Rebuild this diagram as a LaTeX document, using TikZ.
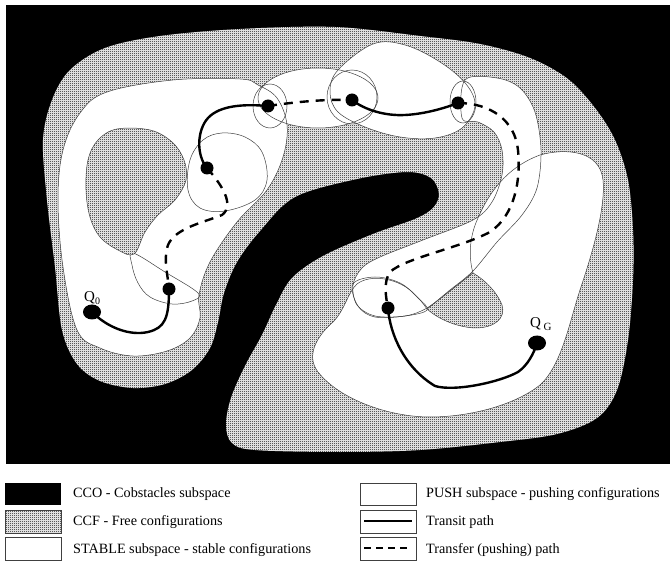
\documentclass[tikz,border=0pt]{standalone}
\usepackage{fontspec}
\setmainfont{Liberation Serif}
\usetikzlibrary{shapes.geometric,patterns.meta}
\pgfdeclarepattern{name=dither, type=uncolored,
  bottom left={\pgfpointorigin}, top right={\pgfpoint{2pt}{2pt}},
  tile size={\pgfpoint{2pt}{2pt}},
  code={\pgfpathrectangle{\pgfpointorigin}{\pgfpoint{1pt}{1pt}}
        \pgfpathrectangle{\pgfpoint{1pt}{1pt}}{\pgfpoint{1pt}{1pt}}
        \pgfusepath{fill}}}
\tikzset{
  thin line/.style={line width=0.5pt, draw=black!75},
  region/.style={fill=white},
  ccfill/.style={pattern=dither, pattern color=black},
  transit/.style={line width=2.4pt, line cap=round},
  transfer/.style={line width=2.4pt, dash pattern=on 9pt off 7pt},
  dot/.style={circle, fill=black, inner sep=0pt, minimum size=13pt},
  bigdot/.style={ellipse, fill=black, inner sep=0pt, minimum width=18pt, minimum height=15pt},
  legtext/.style={anchor=west, font=\fontsize{14.2}{16}\selectfont, inner sep=0pt},
  qlabel/.style={font=\fontsize{15}{17}\selectfont, inner sep=0pt}
}
\begin{document}
\begin{tikzpicture}[x=1pt,y=-1pt]
\useasboundingbox (0,0) rectangle (670,572);
% obstacles background
\fill[black] (6,5) rectangle (670,464);
% free configurations (with obstacle tongue cut out)
\def\freeblob{plot[smooth cycle, tension=0.55] coordinates {
 (133,388) (100,381) (77,364) (62,330) (55,267) (47,200) (43,140) (52,100) (70,70)
 (105,48) (160,36) (240,29) (335,27) (420,36) (480,44) (530,58) (568,79) (595,108)
 (615,140) (628,180) (633,230) (633,280) (628,340) (617,390) (597,418) (557,434)
 (500,442) (420,450) (340,452) (255,450) (232,443) (226,425) (231,398) (245,366)
 (262,335) (276,305) (292,278) (323,256) (373,234) (415,219) (433,208) (439,194)
 (431,178) (407,172) (357,179) (295,197) (260,231) (237,262) (224,293) (218,322)
 (210,348) (192,370) (165,384)}}
\fill[white] \freeblob;
\fill[ccfill] \freeblob;
% region shapes
\def\stableA{plot[smooth cycle, tension=0.6] coordinates {(258,85) (240,79) (173,80) (107,92) (80,113) (63,150) (58,200) (63,267) (77,330) (100,348) (133,356) (167,351) (190,338) (200,318) (199,295) (210,262) (237,222) (267,190) (283,157) (287,125) (277,98)}}
\def\pushA{plot[smooth cycle, tension=0.6] coordinates {(222,133) (245,137) (262,152) (267,180) (255,200) (225,211) (200,208) (188,190) (190,160) (203,140)}}
\def\pushB{plot[smooth cycle, tension=0.6] coordinates {(133,253) (165,272) (198,293) (192,301) (172,304) (150,297) (138,283) (132,265)}}
\def\pushC{(270,106) ellipse [x radius=17pt, y radius=22pt]}
\def\pushD{(318,98) ellipse [x radius=60pt, y radius=30pt]}
\def\pushE{(352,97) ellipse [x radius=25pt, y radius=27pt]}
\def\stableB{plot[smooth cycle, tension=0.6] coordinates {(338,70) (373,44) (405,45) (440,62) (466,84) (475,106) (462,128) (435,138) (400,137) (365,127) (338,112) (330,92)}}
\def\pushF{(463,102) ellipse [x radius=13pt, y radius=21pt]}
\def\pushG{plot[smooth cycle, tension=0.55] coordinates {(465,80) (497,78) (520,88) (535,112) (541,150) (537,188) (522,215) (497,242) (473,271) (450,290) (427,308) (405,316) (375,316) (357,305) (353,285) (362,268) (380,257) (423,240) (473,220) (492,202) (502,175) (502,150) (494,132) (478,122) (462,118)}}
\def\pushH{plot[smooth cycle, tension=0.6] coordinates {(353,284) (375,277) (400,283) (418,298) (427,310) (405,316) (375,317) (358,306)}}
\def\stableC{(473,273) .. controls (468,255) and (470,235) .. (478,218) .. controls (488,195) and (505,168) .. (540,155) .. controls (565,148) and (600,150) .. (603,180) .. controls (606,210) and (590,260) .. (580,290) .. controls (570,320) and (562,365) .. (540,385) .. controls (515,405) and (470,417) .. (430,417) .. controls (390,417) and (340,400) .. (318,372) .. controls (305,355) and (318,335) .. (333,322) .. controls (345,310) and (348,292) .. (357,284) .. controls (370,274) and (395,278) .. (410,290) .. controls (418,297) and (423,303) .. (427,309) -- cycle}
\foreach \r in {\stableA,\pushA,\pushB,\pushC,\pushD,\pushE,\stableB,\pushF,\pushG,\pushH,\stableC}
  {\fill[region] \r;}
\foreach \r in {\stableA,\pushA,\pushB,\pushC,\pushD,\pushE,\stableB,\pushF,\pushG,\pushH,\stableC}
  {\draw[thin line] \r;}
% gray holes
\def\holeA{plot[smooth cycle, tension=0.6] coordinates {(117,129) (150,130) (172,142) (184,160) (186,180) (175,200) (158,215) (145,232) (134,254) (118,250) (100,237) (90,217) (86,190) (88,160) (98,140)}}
\def\holeB{(427,309) -- (473,273) .. controls (485,280) and (497,292) .. (502,305) .. controls (506,318) and (495,328) .. (475,328) .. controls (455,327) and (437,318) .. (427,309) -- cycle}
\fill[white] \holeA; \fill[ccfill] \holeA; \draw[thin line] \holeA;
\fill[white] \holeB; \fill[ccfill] \holeB; \draw[thin line] \holeB;
% configuration points
\coordinate (q0) at (92,312);
\coordinate (c1) at (169,289);
\coordinate (c2) at (207,168);
\coordinate (c3) at (268,106);
\coordinate (c4) at (352,100);
\coordinate (c5) at (458,103);
\coordinate (c6) at (388,308);
\coordinate (qg) at (537,343);
% transit paths
\draw[transit] (q0) .. controls (108,328) and (130,336) .. (148,332) .. controls (165,328) and (169,318) .. (c1);
\draw[transit] (c3) .. controls (245,104) and (220,105) .. (208,118) .. controls (197,130) and (196,155) .. (c2);
\draw[transit] (c4) .. controls (365,110) and (385,116) .. (405,115) .. controls (425,114) and (445,108) .. (c5);
\draw[transit] (c6) .. controls (390,335) and (405,368) .. (435,386) .. controls (455,392) and (500,382) .. (518,372) .. controls (528,365) and (534,353) .. (qg);
% transfer paths
\draw[transfer] (c2) .. controls (222,185) and (235,205) .. (222,215) .. controls (205,222) and (175,228) .. (168,245) .. controls (163,260) and (168,275) .. (c1);
\draw[transfer] (c3) .. controls (295,102) and (325,99) .. (c4);
\draw[transfer] (c5) .. controls (490,103) and (515,120) .. (518,150) .. controls (521,180) and (515,215) .. (490,232) .. controls (460,248) and (405,258) .. (390,272) .. controls (383,282) and (386,298) .. (c6);
% dots
\node[bigdot] (Q0) at (q0) {};
\node[bigdot] (QG) at (qg) {};
\node[dot] (C1) at (c1) {};
\node[dot] (C2) at (c2) {};
\node[dot] (C3) at (c3) {};
\node[dot] (C4) at (c4) {};
\node[dot] (C5) at (c5) {};
\node[dot] (C6) at (c6) {};
\node[qlabel, anchor=base west] (Q0lab) at (84,302) {Q\raisebox{-0.3ex}{\fontsize{10}{11}\selectfont 0}};
\node[qlabel, anchor=base west] (QGlab) at (530,328) {Q\,\raisebox{-0.4ex}{\fontsize{11}{12}\selectfont G}};
% legend
\fill[black] (5,483) rectangle (61,505);
\fill[white] (5,510) rectangle (61,533);
\filldraw[ccfill, thin line] (5,510) rectangle (61,533);
\draw[thin line] (5,537) rectangle (61,560);
\node[legtext] (L1) at (73,494) {CCO - Cobstacles subspace};
\node[legtext] (L2) at (73,522) {CCF - Free configurations};
\node[legtext] (L3) at (73,550) {STABLE subspace - stable configurations};
\draw[thin line] (360,483) rectangle (416,505);
\draw[thin line] (360,510) rectangle (416,533);
\draw[line width=1.6pt] (364,521) -- (412,521);
\draw[thin line] (360,537) rectangle (416,560);
\draw[line width=1.6pt, dash pattern=on 7pt off 5pt] (364,548) -- (412,548);
\node[legtext] (L4) at (426,494) {PUSH subspace - pushing configurations};
\node[legtext] (L5) at (426,522) {Transit path};
\node[legtext] (L6) at (426,550) {Transfer (pushing) path};
\end{tikzpicture}
\end{document}
